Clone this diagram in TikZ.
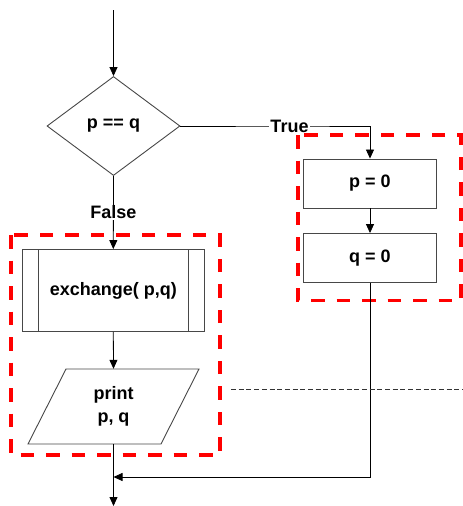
\documentclass[tikz,border=0pt]{standalone}
\usepackage{fontspec}
\setmainfont{Liberation Sans}
\usetikzlibrary{shapes.geometric,arrows.meta,calc}
\begin{document}
\begin{tikzpicture}[x=1pt,y=-1pt,
  every node/.style={font=\bfseries\fontsize{18}{23}\selectfont, inner sep=0pt},
  shapeline/.style={draw=black!72, line width=0.9pt},
  procbox/.style={shapeline, rectangle, minimum width=133pt, minimum height=49pt},
  subbox/.style={shapeline, rectangle, minimum width=182pt, minimum height=82pt},
  decision/.style={shapeline, diamond, minimum width=133pt, minimum height=99pt},
  iobox/.style={rectangle, minimum width=171pt, minimum height=75pt},
  flow/.style={draw=black, line width=0.8pt, -{Triangle[width=8pt,length=9pt]}},
  plainflow/.style={draw=black!80, line width=0.8pt},
  edgelabel/.style={fill=white, inner sep=1pt},
  groupbox/.style={draw=red, line width=3.6pt, dash pattern=on 13.5pt off 12pt},
  divider/.style={draw=black!80, line width=0.8pt, dash pattern=on 5pt off 2.7pt}]
  \useasboundingbox (0,0) rectangle (463,506);

  % group frames
  \draw[groupbox] (298,135) rectangle (461,300.5);
  \draw[groupbox] (11,235) rectangle (220,455);

  % flowchart nodes
  \node[decision] (cmp) at (113.5,126) {p == q};
  \node[procbox] (p0) at (370,183.5) {p = 0};
  \node[procbox] (q0) at (370,258) {q = 0};
  \node[subbox] (ex) at (113.3,290.5) {exchange( p,q)};
  \draw[shapeline] ($(ex.north west)+(16.5,0)$) -- ($(ex.south west)+(16.5,0)$);
  \draw[shapeline] ($(ex.north east)+(-16.5,0)$) -- ($(ex.south east)+(-16.5,0)$);
  \node[iobox, align=center] (pr) at (113.5,406.5) {print\\p, q};
  \draw[shapeline] (66,369) -- (199,369) -- (161,444) -- (28,444) -- cycle;

  % free ends
  \coordinate (entry) at (113.5,10);
  \coordinate (join) at (113.5,477);
  \coordinate (exit) at (113.5,506);
  \coordinate (d1) at (231,389);
  \coordinate (d2) at (463,389);

  % connectors
  \draw[flow] (entry) -- (cmp.north);
  \draw[flow] (cmp.east) -- (289.5,126) node[edgelabel] (t) {True} -| (p0.north);
  \draw[flow] (cmp.south) -- node[edgelabel, pos=0.5] (f) {False} (ex.north);
  \draw[flow] (p0.south) -- (q0.north);
  \draw[flow] (ex.south) -- (pr.north);
  \draw[flow] (pr.south) -- (exit);
  \draw[flow] (q0.south) |- (join);
  \draw[divider] (d1) -- (d2);
\end{tikzpicture}
\end{document}
